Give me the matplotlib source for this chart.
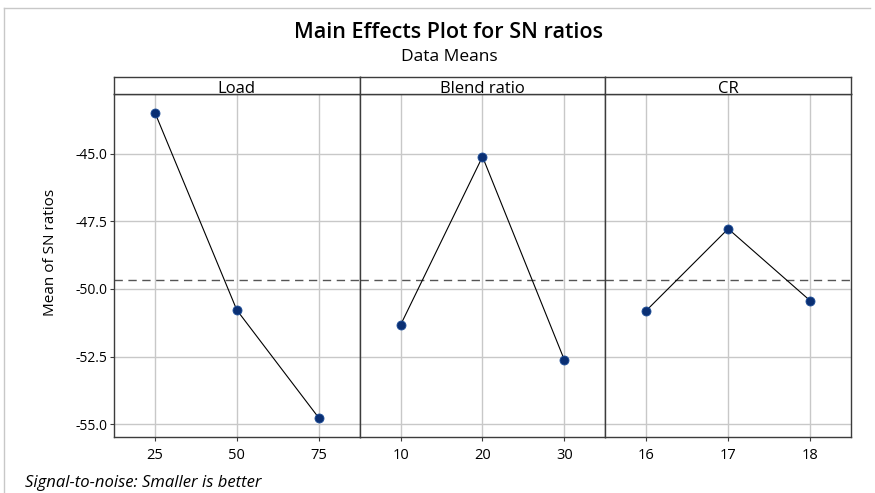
import numpy as np
import matplotlib.pyplot as plt
from matplotlib.lines import Line2D

# factor names and levels
factors = ["Load", "Blend ratio", "CR"]
load_levels = ["25", "50", "75"]
blend_levels = ["10", "20", "30"]
cr_levels = ["16", "17", "18"]

# mean SN ratio at each level
load_sn = [-43.47, -50.78, -54.77]
blend_sn = [-51.33, -45.10, -52.63]
cr_sn = [-50.80, -47.77, -50.43]

yticks = [-45.0, -47.5, -50.0, -52.5, -55.0]

levels = [load_levels, blend_levels, cr_levels]
values = [load_sn, blend_sn, cr_sn]
grand_mean = np.mean(load_sn + blend_sn + cr_sn)

plt.rcParams["font.family"] = ["Open Sans", "DejaVu Sans"]

fig = plt.figure(figsize=(8.75, 4.93), dpi=100)

W, H = 875.0, 493.0
x0, x1 = 114, 851
y_top, y_strip, y_bot = 76.7, 94.3, 436.7
pw = (x1 - x0) / 3.0

spine_col = "#3c3c3c"
grid_col = "#c8c8c8"
marker_col = "#0a2f73"

for i, name in enumerate(factors):
    left = (x0 + i * pw) / W
    ax = fig.add_axes([left, 1 - y_bot / H, pw / W, (y_bot - y_strip) / H])
    pos = np.arange(len(levels[i]))
    ax.plot(pos, values[i], color="black", lw=0.8, zorder=3)
    ax.plot(pos, values[i], "o", ms=6.5, color=marker_col,
            mec="#1f4f9a", mew=0.6, zorder=4)
    ax.axhline(grand_mean, color="#555555", lw=1.0, ls=(0, (6, 4)), zorder=2)

    ax.set_xlim(-0.5, 2.5)
    ax.set_ylim(-55.47, -42.79)
    ax.set_xticks(pos)
    ax.set_xticklabels(levels[i], fontsize=10.5)
    ax.set_yticks(yticks)
    ax.grid(True, color=grid_col, lw=1.0, zorder=0)
    ax.tick_params(axis="x", length=3, color=spine_col, pad=5)
    if i == 0:
        ax.set_yticklabels([f"{t:.1f}" for t in yticks], fontsize=10)
        ax.tick_params(axis="y", length=3, color=spine_col, pad=2)
    else:
        ax.tick_params(axis="y", length=0, labelleft=False)
    for s in ax.spines.values():
        s.set_color(spine_col)
        s.set_linewidth(1.0)

    # strip with the factor name
    sx = fig.add_axes([left, 1 - y_strip / H, pw / W, (y_strip - y_top) / H])
    sx.set_xticks([])
    sx.set_yticks([])
    for s in sx.spines.values():
        s.set_color(spine_col)
        s.set_linewidth(1.0)
    sx.text(0.5, 0.3, name, ha="center", va="center", fontsize=12,
            transform=sx.transAxes)

fig.text(449 / W, 1 - 33 / H, "Main Effects Plot for SN ratios",
         ha="center", va="center", fontsize=15.5, fontweight="semibold")
fig.text(449 / W, 1 - 57 / H, "Data Means", ha="center", va="center",
         fontsize=12.5)
fig.text(50 / W, 1 - 252 / H, "Mean of SN ratios", ha="center",
         va="center", rotation=90, fontsize=11)
fig.text(25 / W, 1 - 483 / H, "Signal-to-noise: Smaller is better",
         ha="left", va="center", fontsize=12, style="italic")

# light frame edges at top and left
fig.add_artist(Line2D([4 / W, 870 / W], [1 - 7.5 / H, 1 - 7.5 / H],
                      color="#c8c8c8", lw=1.0))
fig.add_artist(Line2D([4 / W, 4 / W], [1 - 7.5 / H, 0], color="#c8c8c8",
                      lw=1.0))

fig.savefig("out.png", dpi=100)
